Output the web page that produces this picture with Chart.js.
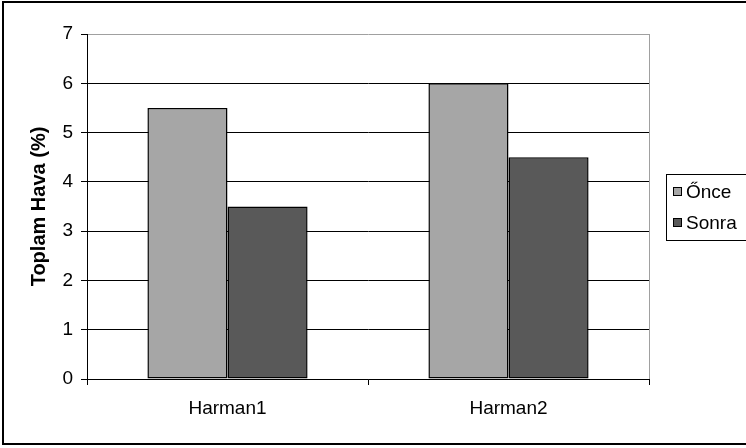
<!DOCTYPE html>
<html>
<head>
<meta charset="utf-8">
<script src="https://cdn.jsdelivr.net/npm/chart.js@4"></script>
<style>
  body { margin: 0; background: #fff; }
  #grafik { display: block; }
</style>
</head>
<body>
<canvas id="grafik" width="746" height="448"></canvas>
<script>
// datos
const categorias = ["Harman1", "Harman2"];
const once = [5.5, 6];
const sonra = [3.5, 4.5];
const etiquetasSerie = ["Őnce", "Sonra"];
const coloresSerie = ["#a6a6a6", "#595959"];
const yMin = 0, yMax = 7, yPaso = 1;

const fuente = "'Liberation Sans', Arial, sans-serif";

// marco exterior, borde derecho del area y leyenda con recuadro
const extras = {
    id: "extras",
    afterDraw(chart) {
        const c = chart.ctx;
        const area = chart.chartArea;
        c.save();

        // borde derecho gris del area de trazado
        c.strokeStyle = "#a0a0a0";
        c.lineWidth = 1;
        c.beginPath();
        c.moveTo(Math.round(area.right) + 0.5, area.top);
        c.lineTo(Math.round(area.right) + 0.5, area.bottom);
        c.stroke();

        // marco negro (sin lado derecho, recortado)
        c.strokeStyle = "#000";
        c.lineWidth = 2;
        c.beginPath();
        c.moveTo(748, 2);
        c.lineTo(3, 2);
        c.lineTo(3, 444);
        c.lineTo(748, 444);
        c.stroke();

        // leyenda
        c.lineWidth = 1;
        c.strokeStyle = "#000";
        c.strokeRect(666.5, 174.5, 100, 66);
        c.font = "19px " + fuente;
        c.textBaseline = "middle";
        c.textAlign = "left";
        const filas = [192, 223];
        chart.data.datasets.forEach((ds, i) => {
            c.fillStyle = ds.backgroundColor;
            c.fillRect(673, filas[i] - 5, 9, 9);
            c.strokeRect(673.5, filas[i] - 4.5, 8, 8);
            c.fillStyle = "#000";
            c.fillText(ds.label, 686, filas[i] + 1);
        });
        c.restore();
    }
};

new Chart(document.getElementById("grafik"), {
    type: "bar",
    data: {
        labels: categorias,
        datasets: [
            { label: etiquetasSerie[0], data: once, backgroundColor: coloresSerie[0], borderColor: "#000", borderWidth: 1.5, borderSkipped: false },
            { label: etiquetasSerie[1], data: sonra, backgroundColor: coloresSerie[1], borderColor: "#000", borderWidth: 1.5, borderSkipped: false }
        ]
    },
    options: {
        responsive: false,
        animation: false,
        categoryPercentage: 0.57,
        barPercentage: 1.0,
        layout: { padding: { top: 34, right: 97, bottom: 0, left: 0 } },
        plugins: { legend: { display: false }, tooltip: { enabled: false } },
        scales: {
            x: {
                offset: true,
                grid: {
                    offset: true,
                    drawOnChartArea: false,
                    color: "#000",
                    tickLength: 6
                },
                border: { color: "#000", width: 1 },
                ticks: { color: "#000", font: { family: fuente, size: 19 }, padding: 12, maxRotation: 0 },
                afterFit: s => { s.height = 69; }
            },
            y: {
                min: yMin,
                max: yMax,
                grid: {
                    color: ctx => (ctx.tick && ctx.tick.value === yMax ? "#a0a0a0" : "#000"),
                    tickColor: "#000",
                    tickLength: 6
                },
                border: { color: "#000", width: 1 },
                ticks: { stepSize: yPaso, color: "#000", font: { family: fuente, size: 19 }, padding: 8 },
                title: {
                    display: true,
                    text: "Toplam Hava (%)",
                    color: "#000",
                    font: { family: fuente, size: 20, weight: "bold" },
                    padding: { top: 27, bottom: 0 }
                },
                afterFit: s => { s.width = 87; }
            }
        }
    },
    plugins: [extras]
});
</script>
</body>
</html>
